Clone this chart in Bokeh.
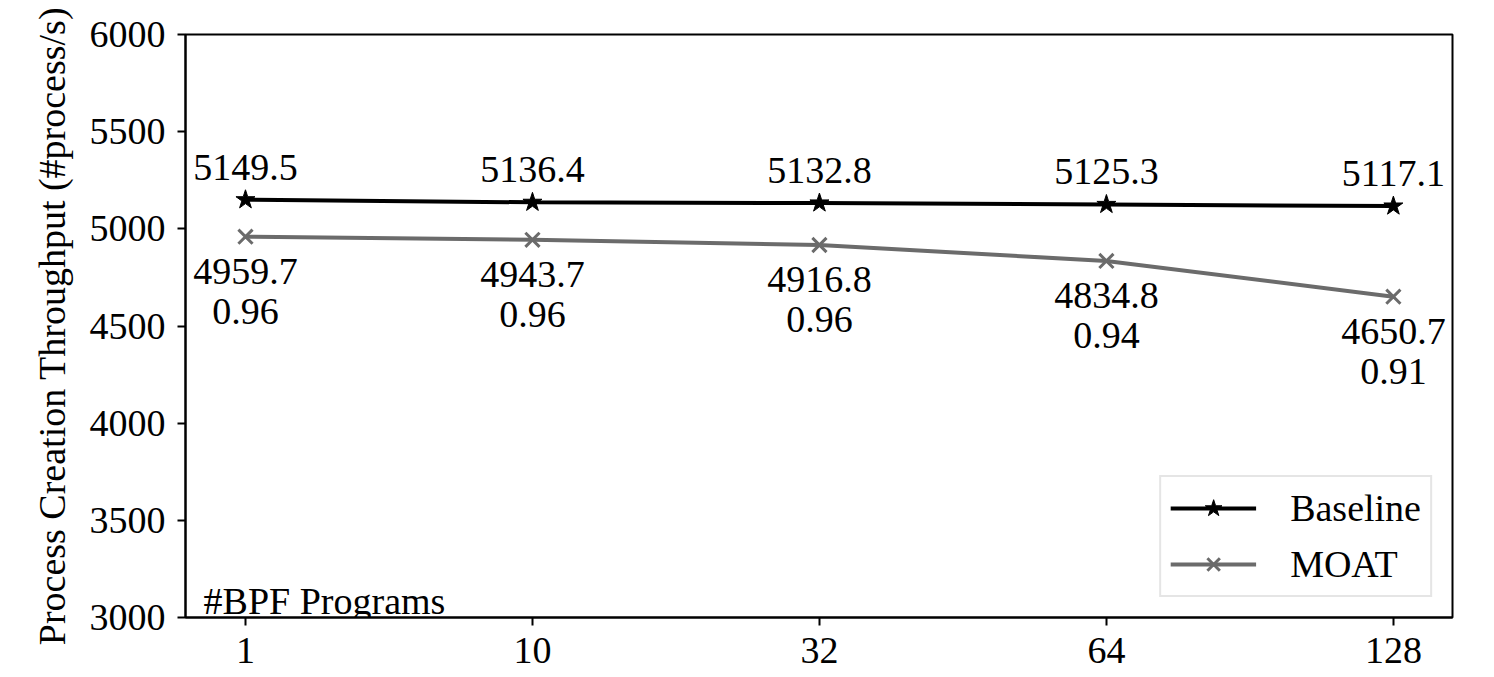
from bokeh.plotting import figure
from bokeh.models import Range1d, FixedTicker, Label, Legend, LegendItem, ColumnDataSource
from bokeh.embed import file_html
from bokeh.resources import INLINE
from bokeh.core.properties import value

categories = ["1", "10", "32", "64", "128"]
baseline = [5149.5, 5136.4, 5132.8, 5125.3, 5117.1]
moat = [4959.7, 4943.7, 4916.8, 4834.8, 4650.7]
ratio = ["0.96", "0.96", "0.96", "0.94", "0.91"]
y_ticks = [3000, 3500, 4000, 4500, 5000, 5500, 6000]

FONT = "Liberation Serif"
FS = "38px"
GRAY = "#6b6b6b"

xs = list(range(len(categories)))
src = ColumnDataSource(dict(
    x=xs, base=baseline, moat=moat,
    base_lbl=[f"{v:.1f}" for v in baseline],
    moat_lbl=[f"{v:.1f}" for v in moat],
    ratio=ratio,
))

p = figure(width=1494, height=677, output_backend="svg", toolbar_location=None,
           x_range=Range1d(-0.209, 4.206), y_range=Range1d(3000, 6000),
           min_border_left=185, min_border_right=42, min_border_top=34, min_border_bottom=60)
p.grid.visible = False
p.outline_line_color = "black"
p.outline_line_width = 2
p.background_fill_color = "white"
p.border_fill_color = "white"

for ax in (p.xaxis[0], p.yaxis[0]):
    ax.axis_line_width = 2
    ax.major_tick_line_width = 2
    ax.major_tick_out = 8
    ax.major_tick_in = 0
    ax.minor_tick_line_color = None
    ax.major_label_text_font = FONT
    ax.major_label_text_font_size = FS
    ax.major_label_text_color = "black"
    ax.axis_label_text_font = FONT
    ax.axis_label_text_font_size = FS
    ax.axis_label_text_font_style = "normal"
    ax.axis_label_text_color = "black"

p.xaxis.ticker = FixedTicker(ticks=xs)
p.xaxis.major_label_overrides = {i: c for i, c in enumerate(categories)}
p.xaxis.major_label_standoff = 12
p.yaxis.ticker = FixedTicker(ticks=y_ticks)
p.yaxis.major_label_standoff = 12
p.yaxis.axis_label = "Process Creation Throughput (#process/s)"
p.yaxis.axis_label_standoff = 14

l1 = p.line("x", "base", source=src, line_color="black", line_width=4)
m1 = p.scatter("x", "base", source=src, marker="star", size=20, fill_color="black", line_color="black")
l2 = p.line("x", "moat", source=src, line_color=GRAY, line_width=4)
m2 = p.scatter("x", "moat", source=src, marker="x", size=20, line_color=GRAY, line_width=3)

p.text("x", "base", text="base_lbl", source=src, text_font=value(FONT), text_font_size=FS,
       text_align="center", text_baseline="bottom", y_offset=-20, text_color="black")
p.text("x", "moat", text="moat_lbl", source=src, text_font=value(FONT), text_font_size=FS,
       text_align="center", text_baseline="top", y_offset=22, text_color="black")
p.text("x", "moat", text="ratio", source=src, text_font=value(FONT), text_font_size=FS,
       text_align="center", text_baseline="top", y_offset=62, text_color="black")

p.add_layout(Label(x=-0.146, y=3000, y_offset=-4, text="#BPF Programs", text_font=FONT,
                   text_font_size=FS, text_baseline="bottom", text_color="black"))

legend = Legend(items=[LegendItem(label="Baseline", renderers=[l1, m1]),
                       LegendItem(label="MOAT", renderers=[l2, m2])],
                location="bottom_right", margin=20, padding=9, spacing=12,
                glyph_width=86, glyph_height=44, label_standoff=34,
                label_text_font=FONT, label_text_font_size=FS, label_text_color="black",
                border_line_color="#cccccc", border_line_width=2,
                background_fill_alpha=1.0)
p.add_layout(legend)

open("out.html", "w").write(file_html(p, INLINE))
